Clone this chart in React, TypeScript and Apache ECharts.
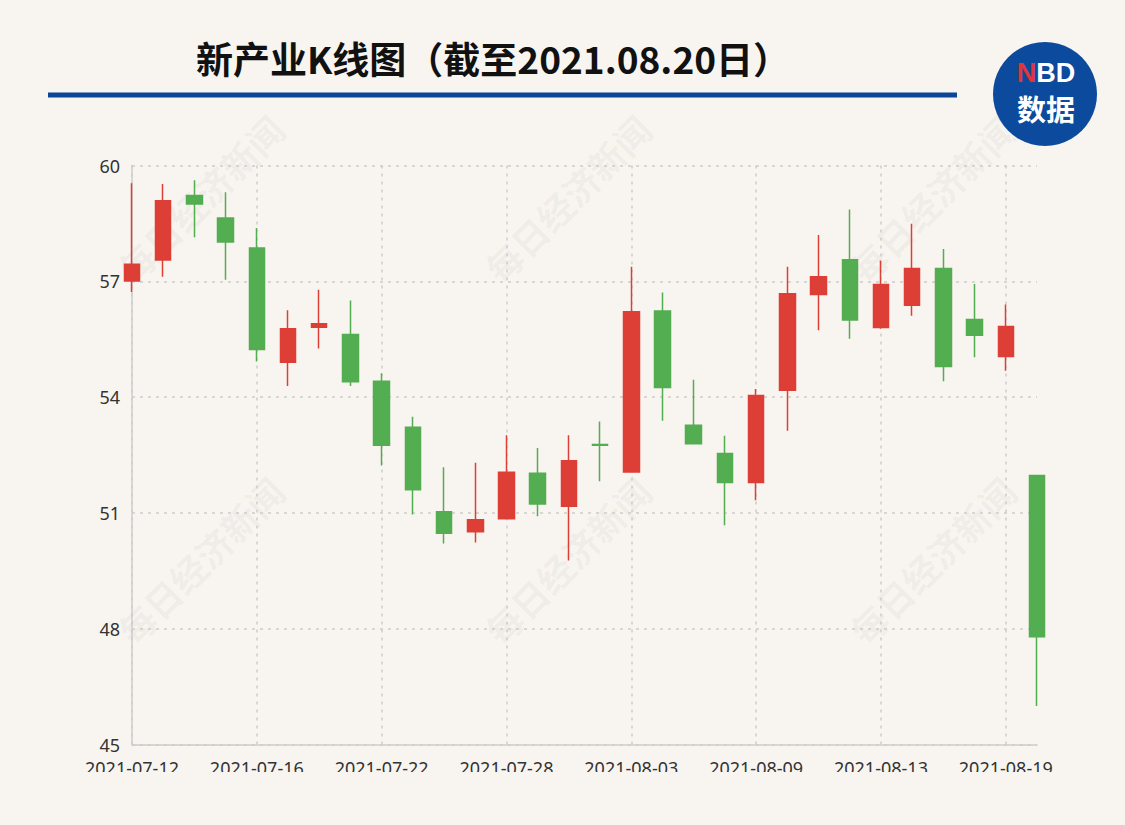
import React, { useEffect, useRef } from "react";
import * as echarts from "echarts";

const dates = [
  "2021-07-12", "2021-07-13", "2021-07-14", "2021-07-15", "2021-07-16",
  "2021-07-19", "2021-07-20", "2021-07-21", "2021-07-22", "2021-07-23",
  "2021-07-26", "2021-07-27", "2021-07-28", "2021-07-29", "2021-07-30",
  "2021-08-02", "2021-08-03", "2021-08-04", "2021-08-05", "2021-08-06",
  "2021-08-09", "2021-08-10", "2021-08-11", "2021-08-12", "2021-08-13",
  "2021-08-16", "2021-08-17", "2021-08-18", "2021-08-19", "2021-08-20",
];
const openPrices = [57.01, 57.55, 59.22, 58.64, 57.86, 54.9, 55.81, 55.62, 54.41, 53.22, 51.03, 50.51, 50.85, 52.03, 51.17, 52.77, 52.06, 56.23, 53.27, 52.54, 51.79, 54.18, 56.66, 57.56, 55.8, 56.38, 57.33, 56.01, 55.05, 51.97];
const closePrices = [57.44, 59.09, 59.0, 58.02, 55.23, 55.77, 55.9, 54.4, 52.75, 51.6, 50.47, 50.82, 52.05, 51.23, 52.35, 52.75, 56.21, 54.25, 52.79, 51.79, 54.04, 56.68, 57.12, 56.0, 56.92, 57.33, 54.79, 55.6, 55.83, 47.79];
const lowPrices = [56.72, 57.12, 58.14, 57.04, 54.92, 54.29, 55.26, 54.29, 52.23, 50.96, 50.21, 50.23, 50.83, 50.91, 49.77, 51.82, 52.04, 53.39, 52.79, 50.68, 51.33, 53.13, 55.73, 55.51, 55.77, 56.11, 54.41, 55.03, 54.68, 46.0];
const highPrices = [59.54, 59.52, 59.62, 59.31, 58.38, 56.25, 56.78, 56.5, 54.62, 53.49, 52.18, 52.3, 53.01, 52.68, 53.01, 53.37, 57.38, 56.71, 54.45, 53.0, 54.21, 57.38, 58.2, 58.86, 57.54, 58.49, 57.84, 56.93, 56.4, 51.99];

const titleText = "新产业K线图（截至2021.08.20日）";
const watermarkText = "每日经济新闻";
const watermarkX = [200, 567, 932];
const watermarkY = [198, 560];

const BG = "#f8f5f1";
const UP = "#dd3e35";
const DOWN = "#53ad51";

export default function App() {
  const ref = useRef<HTMLDivElement>(null);
  useEffect(() => {
    document.body.style.margin = "0";
    if (!ref.current) return;
    const chart = echarts.init(ref.current, undefined, { renderer: "svg" });
    const kData = dates.map((_, i) => [openPrices[i], closePrices[i], lowPrices[i], highPrices[i]]);

    const watermarks: any[] = [];
    watermarkX.forEach((x) =>
      watermarkY.forEach((y) =>
        watermarks.push({
          type: "text",
          x,
          y,
          rotation: Math.PI / 4,
          z: 0,
          silent: true,
          style: {
            text: watermarkText,
            fontSize: 36,
            fontWeight: "bold",
            fontFamily: "Noto Sans CJK SC",
            fill: "rgba(0,0,0,0.055)",
            align: "center",
            verticalAlign: "middle",
          },
        })
      )
    );

    chart.setOption({
      animation: false,
      backgroundColor: BG,
      grid: { left: 132, right: 88, top: 165.5, bottom: 80.5 },
      xAxis: {
        type: "category",
        data: dates,
        boundaryGap: false,
        axisLine: { lineStyle: { color: "#cccccc", width: 1.5 } },
        axisTick: { show: false },
        axisLabel: {
          interval: 3,
          fontSize: 18,
          color: "#333",
          margin: 14,
          fontFamily: "Noto Sans",
        },
        splitLine: {
          show: true,
          interval: 3,
          lineStyle: { color: "#cccccc", type: [3, 5], width: 1.5 },
        },
      },
      yAxis: {
        type: "value",
        min: 45,
        max: 60,
        interval: 3,
        axisLine: { show: true, lineStyle: { color: "#cccccc", width: 1.5 } },
        axisTick: { show: false },
        axisLabel: { fontSize: 18, color: "#333", margin: 12, fontFamily: "Noto Sans" },
        splitLine: { lineStyle: { color: "#cccccc", type: [3, 5], width: 1.5 } },
      },
      series: [
        {
          type: "candlestick",
          data: kData,
          barWidth: 16,
          z: 3,
          itemStyle: {
            color: UP,
            color0: DOWN,
            borderColor: UP,
            borderColor0: DOWN,
            borderWidth: 1.5,
          },
        },
      ],
      graphic: [
        ...watermarks,
        {
          type: "text",
          x: 493,
          y: 58,
          z: 10,
          style: {
            text: titleText,
            fontSize: 37,
            fontWeight: "bold",
            fontFamily: "Noto Sans CJK SC",
            fill: "#111",
            align: "center",
            verticalAlign: "middle",
          },
        },
        {
          type: "rect",
          z: 10,
          shape: { x: 48, y: 92.5, width: 909, height: 5 },
          style: { fill: "#0a4598" },
        },
        {
          type: "circle",
          z: 10,
          shape: { cx: 1045, cy: 94, r: 52 },
          style: { fill: "#0b4a9c" },
        },
        {
          type: "text",
          x: 1046,
          y: 73,
          z: 11,
          style: {
            text: "{n|N}{b|BD}",
            align: "center",
            verticalAlign: "middle",
            rich: {
              n: { fontSize: 27, fontWeight: "bold", fill: "#e5333b", fontFamily: "Liberation Sans" },
              b: { fontSize: 27, fontWeight: "bold", fill: "#ffffff", fontFamily: "Liberation Sans" },
            },
          },
        },
        {
          type: "text",
          x: 1046,
          y: 108,
          z: 11,
          style: {
            text: "数据",
            fontSize: 29,
            fontWeight: "bold",
            fontFamily: "Noto Sans CJK SC",
            fill: "#ffffff",
            align: "center",
            verticalAlign: "middle",
          },
        },
        {
          type: "rect",
          z: 100,
          shape: { x: 0, y: 772, width: 1125, height: 60 },
          style: { fill: BG },
        },
      ],
    });
    return () => chart.dispose();
  }, []);
  return (
    <div
      ref={ref}
      style={{ width: 1125, height: 825, position: "absolute", left: 0, top: 0, background: BG }}
    />
  );
}
